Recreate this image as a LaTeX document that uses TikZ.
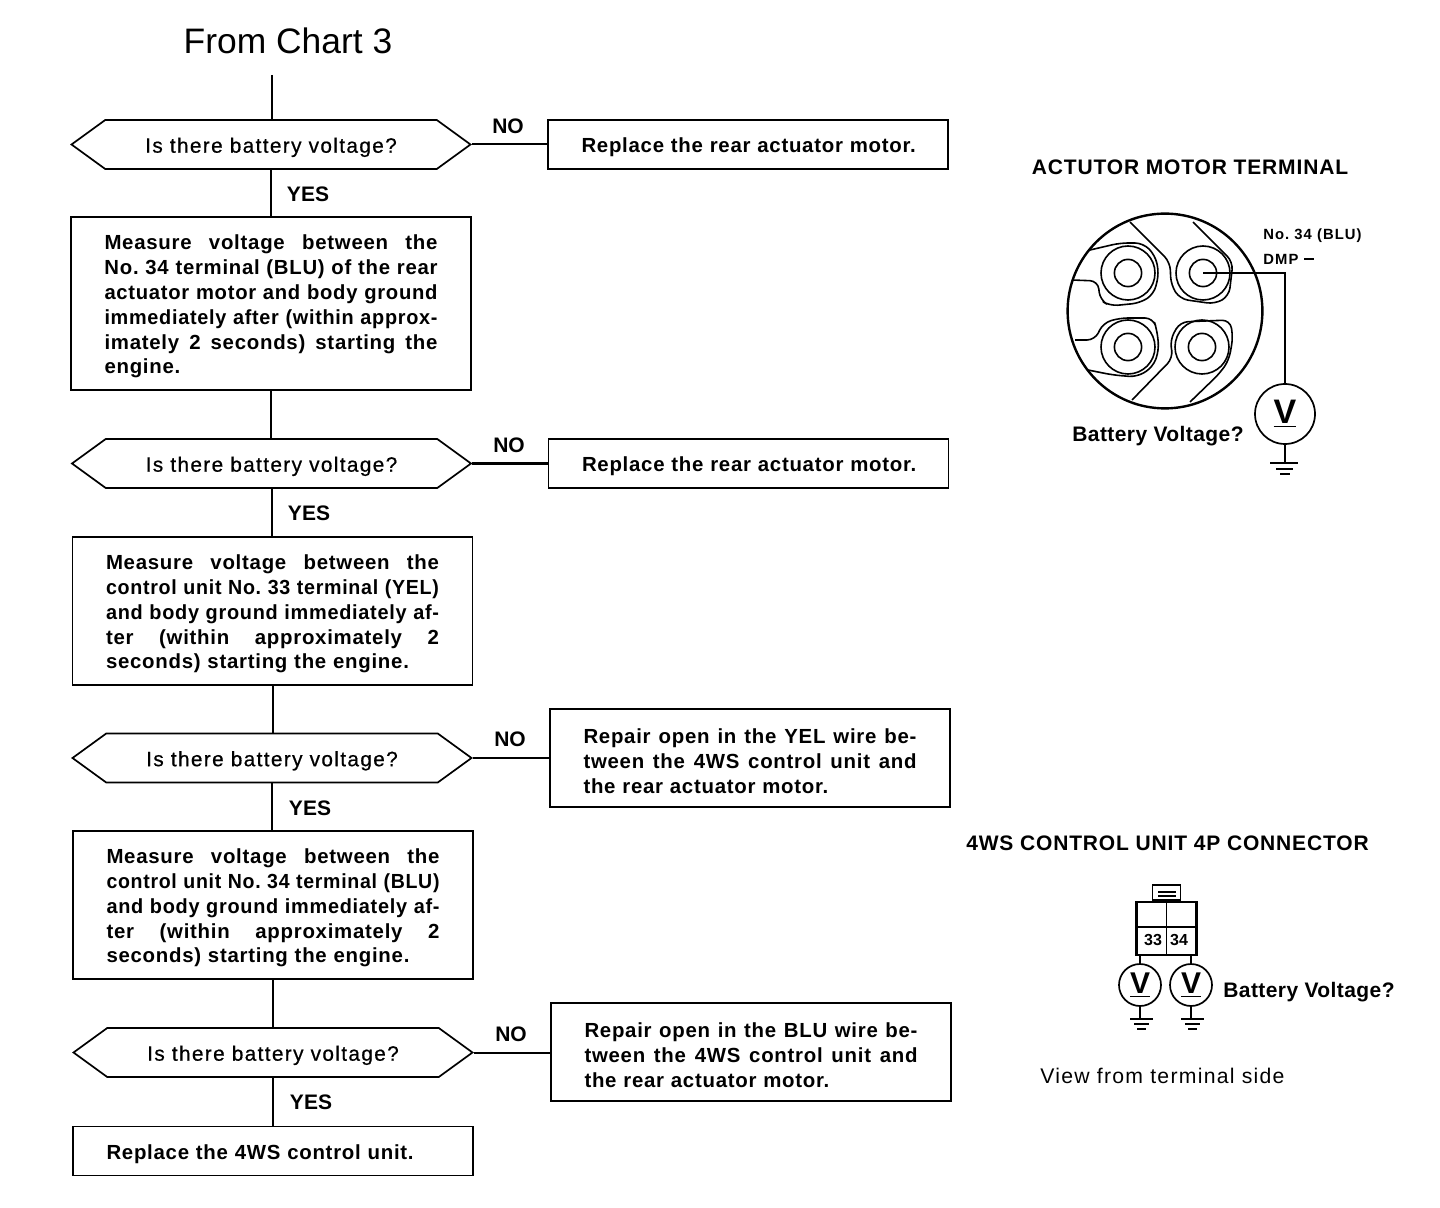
\documentclass[tikz,border=0pt]{standalone}
\usepackage{fontspec}
\setmainfont{Liberation Sans}
\newfontfamily\tracked[LetterSpace=6.5,FakeBold=0.6]{Liberation Sans}
\usetikzlibrary{shapes.symbols}
\newsavebox{\jlbox}
\newcommand{\jl}[1]{\leavevmode\sbox{\jlbox}{#1}\ifdim\wd\jlbox>166.5pt\resizebox{166.5pt}{\height}{#1}\else\hbox to 166.5pt{\spaceskip=.3em plus 1fil\xspaceskip=\spaceskip #1}\fi}
\newcommand{\boxfont}{\bfseries\fontsize{10.2}{12.4}\selectfont\addfontfeature{LetterSpace=3.6}}
\tikzset{
  x=0.5pt,y=-0.5pt,
  ink/.style={line width=0.85pt,black},
  hex/.style={draw,ink,shape=signal,signal from=west,signal to=east and west,signal pointer angle=72,
     minimum width=199.5pt,minimum height=24.5pt,inner sep=0pt,text height=8.2pt,text depth=0pt,font=\tracked\fontsize{10.4}{12}\selectfont},
  tallbox/.style={draw,ink,rectangle,minimum width=200pt,text width=166.5pt,align=left,inner sep=0pt,font=\boxfont,
     execute at begin node={\rule{0pt}{10.5pt}}},
  yn/.style={font=\bfseries\fontsize{10.5}{12}\selectfont,inner sep=0pt},
  head/.style={font=\bfseries\fontsize{10.5}{12}\selectfont\addfontfeature{LetterSpace=4},inner sep=0pt},
  batt/.style={font=\bfseries\fontsize{10.5}{12}\selectfont\addfontfeature{LetterSpace=2},inner sep=0pt,anchor=west},
  small/.style={font=\bfseries\fontsize{7.4}{9}\selectfont\addfontfeature{LetterSpace=7},inner sep=0pt,anchor=west},
  meter/.style={draw,ink,circle,inner sep=0pt,font=\bfseries\fontsize{#1}{#1}\selectfont},
  contour/.style={line width=0.8pt,black,rounded corners=4pt,line join=round},
  link/.style={line width=1pt,black},
  pinlabel/.style={inner sep=0pt,font=\bfseries\fontsize{8}{9}\selectfont},
}
\begin{document}
\frenchspacing
\begin{tikzpicture}
\useasboundingbox (0,0) rectangle (1440,1208);

% ---- flow chart ----
\node[inner sep=0pt,font=\fontsize{17.7}{20}\selectfont] (from) at (288,41) {From Chart 3};
\coordinate (start) at (272,75);

\node[hex] (h1) at (271,144.5) {Is there battery voltage?};
\node[tallbox,minimum height=24.5pt] (r1) at (748,144.5) {Replace the rear actuator motor.};
\node[tallbox,minimum height=86.5pt] (m1) at (271,303.5) {%
\jl{Measure voltage between the}\\
\jl{No. 34 terminal (BLU) of the rear}\\
\jl{actuator motor and body ground}\\
\jl{immediately after (within approx-}\\
\jl{imately 2 seconds) starting the}\\
engine.};
\node[hex] (h2) at (271.5,463.5) {Is there battery voltage?};
\node[tallbox,minimum height=24.5pt] (r2) at (748.5,463.5) {Replace the rear actuator motor.};
\node[tallbox,minimum height=74pt] (m2) at (272.5,611) {%
\jl{Measure voltage between the}\\
\jl{control unit No. 33 terminal (YEL)}\\
\jl{and body ground immediately af-}\\
\jl{ter (within approximately 2}\\
seconds) starting the engine.};
\node[hex] (h3) at (272,758) {Is there battery voltage?};
\node[tallbox,minimum height=49pt] (r3) at (750,758) {%
\jl{Repair open in the YEL wire be-}\\
\jl{tween the 4WS control unit and}\\
the rear actuator motor.};
\node[tallbox,minimum height=74pt] (m3) at (273,905) {%
\jl{Measure voltage between the}\\
\jl{control unit No. 34 terminal (BLU)}\\
\jl{and body ground immediately af-}\\
\jl{ter (within approximately 2}\\
seconds) starting the engine.};
\node[hex] (h4) at (273,1052.5) {Is there battery voltage?};
\node[tallbox,minimum height=49pt] (r4) at (751,1052) {%
\jl{Repair open in the BLU wire be-}\\
\jl{tween the 4WS control unit and}\\
the rear actuator motor.};
\node[tallbox,minimum height=24.5pt] (f) at (273,1151) {Replace the 4WS control unit.};

\draw[link] (start) -- (start |- h1.north);
\draw[link] (h1.east) -- (h1.east -| r1.west);
\draw[link] (h2.east) -- (h2.east -| r2.west);
\draw[link] (h3.east) -- (h3.east -| r3.west);
\draw[link] (h4.east) -- (h4.east -| r4.west);
\draw[link] (h1.south) -- (h1.south |- m1.north);
\draw[link] (m1.south) -- (m1.south |- h2.north);
\draw[link] (h2.south) -- (h2.south |- m2.north);
\draw[link] (m2.south) -- (m2.south |- h3.north);
\draw[link] (h3.south) -- (h3.south |- m3.north);
\draw[link] (m3.south) -- (m3.south |- h4.north);
\draw[link] (h4.south) -- (h4.south |- f.north);

\node[yn] (no1) at (508,126) {NO};
\node[yn] (no2) at (509,445) {NO};
\node[yn] (no3) at (510,739) {NO};
\node[yn] (no4) at (511,1034) {NO};
\node[yn] (yes1) at (308,194) {YES};
\node[yn] (yes2) at (309,513) {YES};
\node[yn] (yes3) at (310,808) {YES};
\node[yn] (yes4) at (311,1102) {YES};

% ---- actuator motor terminal ----
\node[head] (t1) at (1190,167) {ACTUTOR MOTOR TERMINAL};
\node[small] (t2) at (1263,235.5) {No. 34 (BLU)};
\node[small] (t3) at (1263,259) {DMP\hspace{3pt}\rule[2.2pt]{5pt}{1pt}};
\node[batt] (t4) at (1072,436.5) {Battery Voltage?};

\draw[line width=1.2pt] (1165,311) circle[radius=48.7pt];
\foreach \cx/\cy in {1128/273,1203/273,1128/347,1202/347}{
  \draw[line width=0.8pt] (\cx,\cy) circle[radius=13.5pt];
  \draw[line width=0.8pt] (\cx,\cy) circle[radius=6.8pt];
}
\draw[contour] (1130,222) -- (1170,262) -- (1171,285) -- (1180,299) -- (1215,304) -- (1229,296) -- (1233,262) -- (1193,222);
\draw[contour] (1090,250) -- (1120,243) -- (1143,243) -- (1155,255) -- (1159,273) -- (1154,294) -- (1140,303) -- (1110,306) -- (1100,300) -- (1098,281) -- (1072,280);
\draw[contour] (1075,340) -- (1095,340) -- (1103,323) -- (1120,318) -- (1153,318) -- (1157,330) -- (1159,350) -- (1153,367) -- (1137,377) -- (1113,375) -- (1088,370);
\draw[contour] (1132,400) -- (1173,358) -- (1170,340) -- (1180,322) -- (1230,320) -- (1233,337) -- (1229,360) -- (1220,373) -- (1190,402);

\node[meter=17,minimum size=30pt] (v1) at (1285,414) {\underline{V}};
\coordinate (pin) at (1203,273);
\coordinate (g1) at (1285,463);
\draw[link] (pin) -- (pin -| v1.north) -- (v1.north);
\draw[link] (v1.south) -- (g1);
\draw[link] (1270,463) -- (1298,463) (1276,469) -- (1293,469) (1280,474) -- (1290,474);

% ---- control unit connector ----
\node[head] (t5) at (1167.5,843) {4WS CONTROL UNIT 4P CONNECTOR};
\node[rectangle,draw,line width=1.3pt,minimum width=30pt,minimum height=26.5pt,inner sep=0pt] (conn) at (1166.5,928.5) {};
\node[rectangle,draw,line width=0.8pt,minimum width=14pt,minimum height=7.5pt,inner sep=0pt,anchor=south] (tab) at (conn.north) {};
\draw[line width=0.8pt] (1158,892) -- (1176,892) (1158,896) -- (1176,896);
\draw[line width=0.9pt] (conn.north) -- (conn.south);
\draw[line width=0.9pt] (conn.west |- 0,927) -- (conn.east |- 0,927);
\node[pinlabel] (n33) at (1153,940) {33};
\node[pinlabel] (n34) at (1179,940) {34};
\node[meter=15,minimum size=21pt] (v2) at (1140,985) {\underline{V}};
\node[meter=15,minimum size=21pt] (v3) at (1191,985) {\underline{V}};
\draw[link] (v2.north) -- (v2.north |- conn.south);
\draw[link] (v3.north) -- (v3.north |- conn.south);
\coordinate (g2) at (1140,1019);
\coordinate (g3) at (1191,1019);
\draw[link] (v2.south) -- (g2);
\draw[link] (v3.south) -- (g3);
\draw[link] (1130,1019) -- (1153,1019) (1134,1024) -- (1149,1024) (1137,1029) -- (1146,1029);
\draw[link] (1181,1019) -- (1204,1019) (1185,1024) -- (1200,1024) (1188,1029) -- (1197,1029);
\node[batt] (t6) at (1223,992.5) {Battery Voltage?};
\node[inner sep=0pt,anchor=west,font=\fontsize{10.6}{12}\selectfont\addfontfeature{LetterSpace=6}] (t7) at (1040,1076) {View from terminal side};
\end{tikzpicture}
\end{document}
